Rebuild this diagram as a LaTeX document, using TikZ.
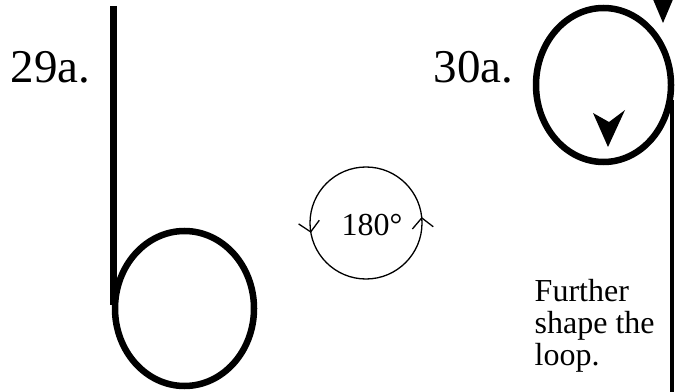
\documentclass[tikz,border=0pt]{standalone}
\usepackage{fontspec}
\setmainfont{Liberation Serif}
\usetikzlibrary{arrows.meta,decorations.markings}
\tikzset{
  strand/.style  = {line width=6.5pt},
  thread/.style  = {line width=3.3pt},
  barb/.style    = {fill=black},
  rotsign/.style = {line width=1.3pt,
                    decoration={markings,
                      mark=at position 0.017 with {\arrow{Straight Barb[length=10pt,width=21pt]}},
                      mark=at position 0.528 with {\arrow{Straight Barb[length=10pt,width=21pt]}}},
                    postaction={decorate}},
  numlbl/.style  = {inner sep=0pt, anchor=base west, font=\fontsize{47}{50}\selectfont},
  note/.style    = {inner sep=0pt, anchor=base west, align=left,
                    font=\fontsize{32}{31.7}\selectfont},
}

\begin{document}
\begin{tikzpicture}[x=1pt, y=1pt]
\clip (0,0) rectangle (676,391);
% ---------------- step 29a ----------------
\node[numlbl] (lab29) at (10.5,308) {29a.};
\coordinate (top29) at (113.5,385);
\coordinate (bot29) at (113.5,86);
\coordinate (c29) at (184.5,82.5);
\draw[strand] (top29) -- (bot29);
\draw[strand] (c29) ellipse[x radius=69.5, y radius=77.5];
% ---------------- half turn ----------------
\coordinate (rc) at (366,168);
\draw[rotsign] (rc) circle[radius=56];
\node[note] (deg) at (341.5,156) {180°};
% ---------------- step 30a ----------------
\node[numlbl] (lab30) at (433.5,308) {30a.};
\coordinate (c30) at (603.5,306);
\coordinate (tail) at (672,291);
\coordinate (foot) at (672,-3);
\draw[strand] (c30) ellipse[x radius=67.5, y radius=77];
\draw[thread] (tail) -- (foot);
\fill[barb] (593,278) -- (608,244) -- (625,281) -- (609,269) -- cycle;
\fill[barb] (652,394) -- (663,368) -- (674,394) -- cycle;
% base of a multi-line node sits on its last line
\node[note] (hint) at (534.5,26) {Further\\shape the\\loop.};
\end{tikzpicture}
\end{document}
